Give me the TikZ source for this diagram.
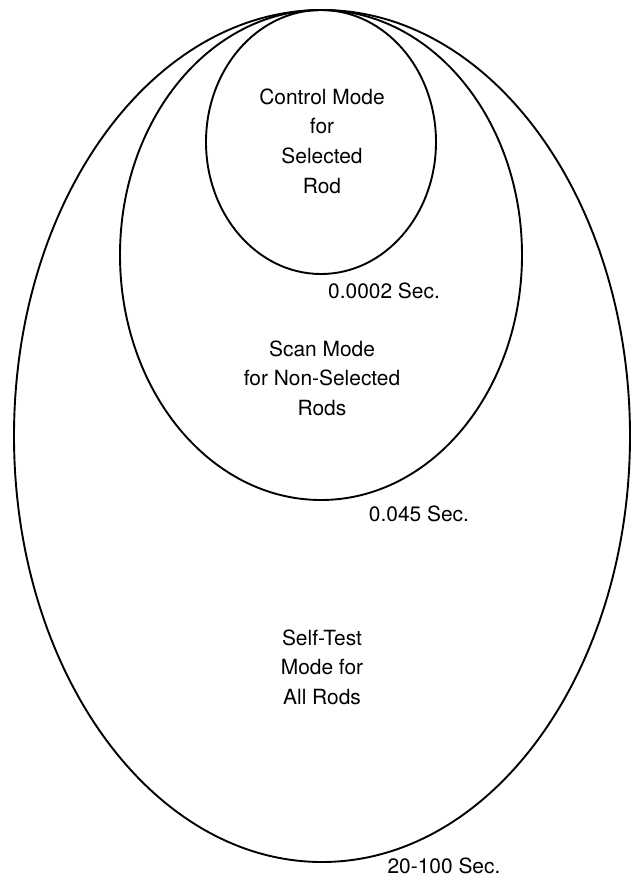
\documentclass[tikz,border=0pt]{standalone}
\usepackage{fontspec}
\setmainfont{TeX Gyre Heros}
\usepackage{tikz}
\usetikzlibrary{positioning}

\begin{document}
\begin{tikzpicture}[x=1bp,y=-1bp,line width=1.9bp,
    modetext/.style={align=center,font=\fontsize{21}{29.7}\selectfont},
    timetext/.style={font=\fontsize{21}{29.7}\selectfont}]
        \useasboundingbox (0,0) rectangle (638,882);
        % nested mode ellipses
        \draw (322,436) ellipse [x radius=308,y radius=426];
        \draw (321,255) ellipse [x radius=201,y radius=245];
        \draw (321,142) ellipse [x radius=115,y radius=132];
        \node[modetext] (ctrl) at (322,141) {Control Mode\\for\\Selected\\Rod};
        \node[modetext] (scan) at (322,378) {Scan Mode\\for Non-Selected\\Rods};
        \node[modetext] (self) at (322,667) {Self-Test\\Mode for\\All Rods};
        \node[timetext] (tctrl) at (384,291) {0.0002 Sec.};
        \node[timetext] (tscan) at (419,514) {0.045 Sec.};
        \node[timetext] (tself) at (444,866) {20-100 Sec.};
      \end{tikzpicture}
\end{document}
